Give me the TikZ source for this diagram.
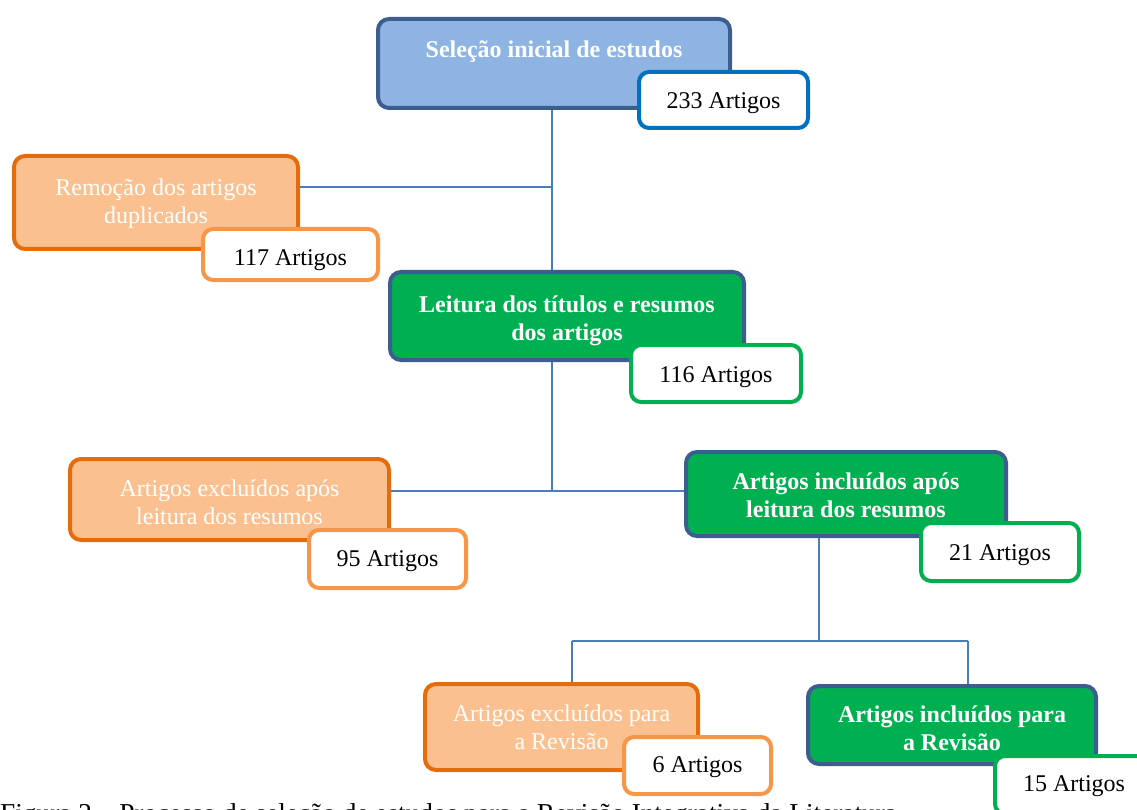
\documentclass[tikz,border=0pt]{standalone}
\usepackage{fontspec}
\setmainfont{Liberation Serif}
\definecolor{selfill}{HTML}{8EB4E3}
\definecolor{darkblue}{HTML}{3C5E8E}
\definecolor{grn}{HTML}{00B050}
\definecolor{orfill}{HTML}{FAC090}
\definecolor{ordark}{HTML}{E46C0A}
\definecolor{orlight}{HTML}{F79646}
\definecolor{cntblue}{HTML}{0070C0}
\definecolor{conn}{HTML}{4A7EBB}
% text lowered inside its node without changing the node's size
\newcommand{\lowtxt}[2][3pt]{\raisebox{-#1}[\height][\depth]{\begin{tabular}{@{}c@{}}#2\end{tabular}}}
\tikzset{
  box/.style={rounded corners=11pt, line width=4pt, inner sep=0pt, align=center,
    text=white, font=\fontsize{24}{28}\selectfont},
  bluebox/.style={box, fill=selfill, draw=darkblue, font=\fontsize{24}{28}\selectfont\bfseries},
  greenbox/.style={box, fill=grn, draw=darkblue, font=\fontsize{24}{28}\selectfont\bfseries},
  orangebox/.style={box, fill=orfill, draw=ordark},
  count/.style={rounded corners=10pt, line width=4pt, inner sep=0pt, fill=white,
    text=black, font=\fontsize{24}{28}\selectfont},
  cblue/.style={count, draw=cntblue},
  cgreen/.style={count, draw=grn},
  corange/.style={count, draw=orlight},
  link/.style={draw=conn, line width=2pt},
}
\begin{document}
\begin{tikzpicture}[x=1pt,y=-1pt]
\clip (0,0) rectangle (1137,810);
\useasboundingbox (0,0) rectangle (1137,810);
% caption (cut at the bottom, as in the reference)
\node[anchor=base west, inner sep=0pt, font=\fontsize{27.3}{30}\selectfont] (cap) at (0,822)
  {Figura 2 – Processo de seleção de estudos para a Revisão Integrativa da Literatura};
% junction coordinates
\coordinate (j1) at (552,187);
\coordinate (j2) at (552,491);
\coordinate (j3) at (819,641);
\coordinate (j3l) at (572,641);
\coordinate (j3r) at (968,641);
% boxes
\node[bluebox, minimum width=352pt, minimum height=89pt] (sel) at (554,63.5)
  {\lowtxt[2pt]{Seleção inicial de estudos\\ \mbox{}}};
\node[orangebox, minimum width=284pt, minimum height=93pt] (rem) at (156,202.5)
  {\lowtxt[1pt]{Remoção dos artigos\\duplicados}};
\node[greenbox, minimum width=354pt, minimum height=88pt] (lei) at (567,316)
  {\lowtxt[5pt]{Leitura dos títulos e resumos\\dos artigos}};
\node[orangebox, minimum width=319pt, minimum height=81pt] (exa) at (229.5,499.5)
  {\lowtxt[5pt]{Artigos excluídos após\\leitura dos resumos}};
\node[greenbox, minimum width=320pt, minimum height=84pt] (ina) at (846,494)
  {\lowtxt[4pt]{Artigos incluídos após\\leitura dos resumos}};
\node[orangebox, minimum width=273pt, minimum height=86pt] (exp) at (561.5,727)
  {\lowtxt[3pt]{Artigos excluídos para\\a Revisão}};
\node[greenbox, minimum width=288pt, minimum height=78pt] (inp) at (952,725)
  {\lowtxt[6pt]{Artigos incluídos para\\a Revisão}};
% connectors
\draw[link] (sel.south -| j1) -- (lei.north -| j1);
\draw[link] (rem.east |- j1) -- (j1);
\draw[link] (lei.south -| j2) -- (j2);
\draw[link] (exa.east |- j2) -- (ina.west |- j2);
\draw[link] (ina.south -| j3) -- (j3);
\draw[link] (j3l) -- (j3r);
\draw[link] (j3l) -- (exp.north -| j3l);
\draw[link] (j3r) -- (inp.north -| j3r);
% counts
\node[cblue, minimum width=169pt, minimum height=56pt] (c233) at (723.5,100) {\lowtxt[3pt]{233 Artigos}};
\node[corange, minimum width=175pt, minimum height=51pt] (c117) at (290.5,254.5) {\lowtxt[5pt]{117 Artigos}};
\node[cgreen, minimum width=170pt, minimum height=57pt] (c116) at (716,373.5) {\lowtxt[3pt]{116 Artigos}};
\node[corange, minimum width=157pt, minimum height=58pt] (c95) at (387.5,559) {\lowtxt[2pt]{95 Artigos}};
\node[cgreen, minimum width=158pt, minimum height=58pt] (c21) at (1000,552) {\lowtxt[3pt]{21 Artigos}};
\node[corange, minimum width=147pt, minimum height=57pt] (c6) at (697.5,765.5) {\lowtxt[1pt]{6 Artigos}};
\node[cgreen, minimum width=158pt, minimum height=58pt] (c15) at (1074,785) {\lowtxt[1pt]{15 Artigos}};
\end{tikzpicture}
\end{document}
